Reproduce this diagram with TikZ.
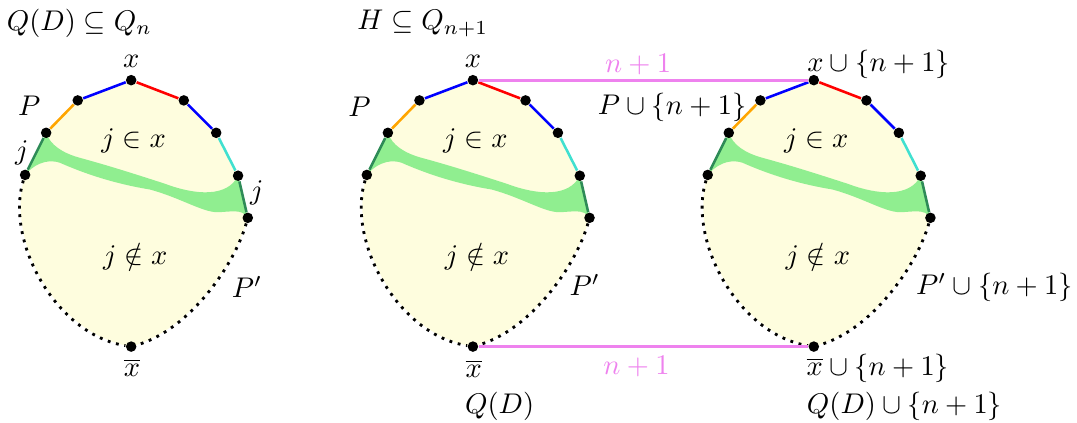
\documentclass[tikz,border=0pt]{standalone}
\usetikzlibrary{backgrounds}

\definecolor{blobYellow}{RGB}{254,253,222}
\definecolor{blobBand}{RGB}{144,238,144}
\definecolor{edgeSea}{RGB}{46,139,87}
\definecolor{edgeTurq}{RGB}{64,224,208}
\definecolor{edgeOrange}{RGB}{255,165,0}
\definecolor{liftViolet}{RGB}{238,130,238}

\begin{document}
\begin{tikzpicture}[x=1cm,y=1cm,
      vtx/.style={circle, fill=black, inner sep=0pt, minimum size=.13cm},
      edge/.style={line width=.9pt},
      rim/.style={dotted, line width=1pt},
      lift/.style={draw=liftViolet, line width=1pt},
      liftlabel/.style={text=liftViolet}]
      \useasboundingbox (0,0) rectangle (13.30,5.22);

      \foreach \s/\dx in {a/0, b/4.22, c/8.43} {
        \begin{scope}[xshift=\dx cm]
          \node[vtx] (\s-t) at (1.62,4.23) {};
          \node[vtx] (\s-l1) at (0.96,3.98) {};
          \node[vtx] (\s-l2) at (0.57,3.58) {};
          \node[vtx] (\s-l3) at (0.31,3.06) {};
          \node[vtx] (\s-r1) at (2.27,3.98) {};
          \node[vtx] (\s-r2) at (2.67,3.58) {};
          \node[vtx] (\s-r3) at (2.94,3.05) {};
          \node[vtx] (\s-r4) at (3.06,2.53) {};
          \node[vtx] (\s-b) at (1.62,0.94) {};

          \begin{scope}[on background layer]
            \fill[blobYellow] (\s-t.center) -- (\s-r1.center) -- (\s-r2.center)
              -- (\s-r3.center) -- (\s-r4.center)
              .. controls (2.90,1.96) and (2.35,1.15) .. (\s-b.center)
              .. controls (0.68,1.09) and (0.06,2.26) .. (\s-l3.center)
              -- (\s-l2.center) -- (\s-l1.center) -- cycle;
            \fill[blobBand] (\s-l2.center)
              .. controls (0.62,3.43) and (0.77,3.33) .. (0.99,3.27)
              .. controls (1.36,3.17) and (1.73,3.05) .. (2.04,2.95)
              .. controls (2.41,2.81) and (2.81,2.78) .. (\s-r3.center)
              -- (\s-r4.center)
              .. controls (2.99,2.65) and (2.84,2.60) .. (2.68,2.60)
              .. controls (2.50,2.60) and (2.22,2.78) .. (1.85,2.88)
              .. controls (1.36,2.96) and (0.99,3.10) .. (0.74,3.21)
              .. controls (0.56,3.27) and (0.40,3.17) .. (\s-l3.center) -- cycle;
          \end{scope}

          \draw[edge, blue] (\s-t) -- (\s-l1);
          \draw[edge, edgeOrange] (\s-l1) -- (\s-l2);
          \draw[edge, edgeSea] (\s-l2) -- (\s-l3);
          \draw[edge, red] (\s-t) -- (\s-r1);
          \draw[edge, blue] (\s-r1) -- (\s-r2);
          \draw[edge, edgeTurq] (\s-r2) -- (\s-r3);
          \draw[edge, edgeSea] (\s-r3) -- (\s-r4);
          \draw[rim] (\s-l3) .. controls (0.06,2.26) and (0.68,1.09) .. (\s-b);
          \draw[rim] (\s-r4) .. controls (2.90,1.96) and (2.35,1.15) .. (\s-b);

          \node (\s-in) at (1.65,3.48) {$j\in x$};
          \node (\s-out) at (1.67,2.05) {$j\notin x$};
        \end{scope}
      }

      % left cube
      \node (titleA) at (0.98,4.93) {$Q(D)\subseteq Q_n$};
      \node (a-xl) at (1.62,4.46) {$x$};
      \node (a-pl) at (0.36,3.91) {$P$};
      \node (a-jl) at (0.27,3.33) {$j$};
      \node (a-jr) at (3.17,2.84) {$j$};
      \node (a-ql) at (3.05,1.68) {$P'$};
      \node (a-bl) at (1.63,0.68) {$\overline{x}$};

      % the two halves of H
      \node (titleB) at (5.22,4.93) {$H\subseteq Q_{n+1}$};
      \node (b-xl) at (5.84,4.46) {$x$};
      \node (b-pl) at (4.44,3.90) {$P$};
      \node (b-ql) at (7.22,1.70) {$P'$};
      \node (b-bl) at (5.85,0.67) {$\overline{x}$};
      \node (b-dl) at (6.17,0.20) {$Q(D)$};

      \node (c-xl) at (10.85,4.42) {$x\cup\{n+1\}$};
      \node (c-pl) at (8.30,3.90) {$P\cup\{n+1\}$};
      \node (c-ql) at (12.28,1.67) {$P'\cup\{n+1\}$};
      \node (c-bl) at (10.84,0.67) {$\overline{x}\cup\{n+1\}$};
      \node (c-dl) at (11.17,0.20) {$Q(D)\cup\{n+1\}$};

      \draw[lift] (b-t) -- (c-t);
      \draw[lift] (b-b) -- (c-b);
      \node[liftlabel] (topLift) at (7.88,4.42) {$n+1$};
      \node[liftlabel] (botLift) at (7.86,0.69) {$n+1$};
    \end{tikzpicture}
\end{document}
